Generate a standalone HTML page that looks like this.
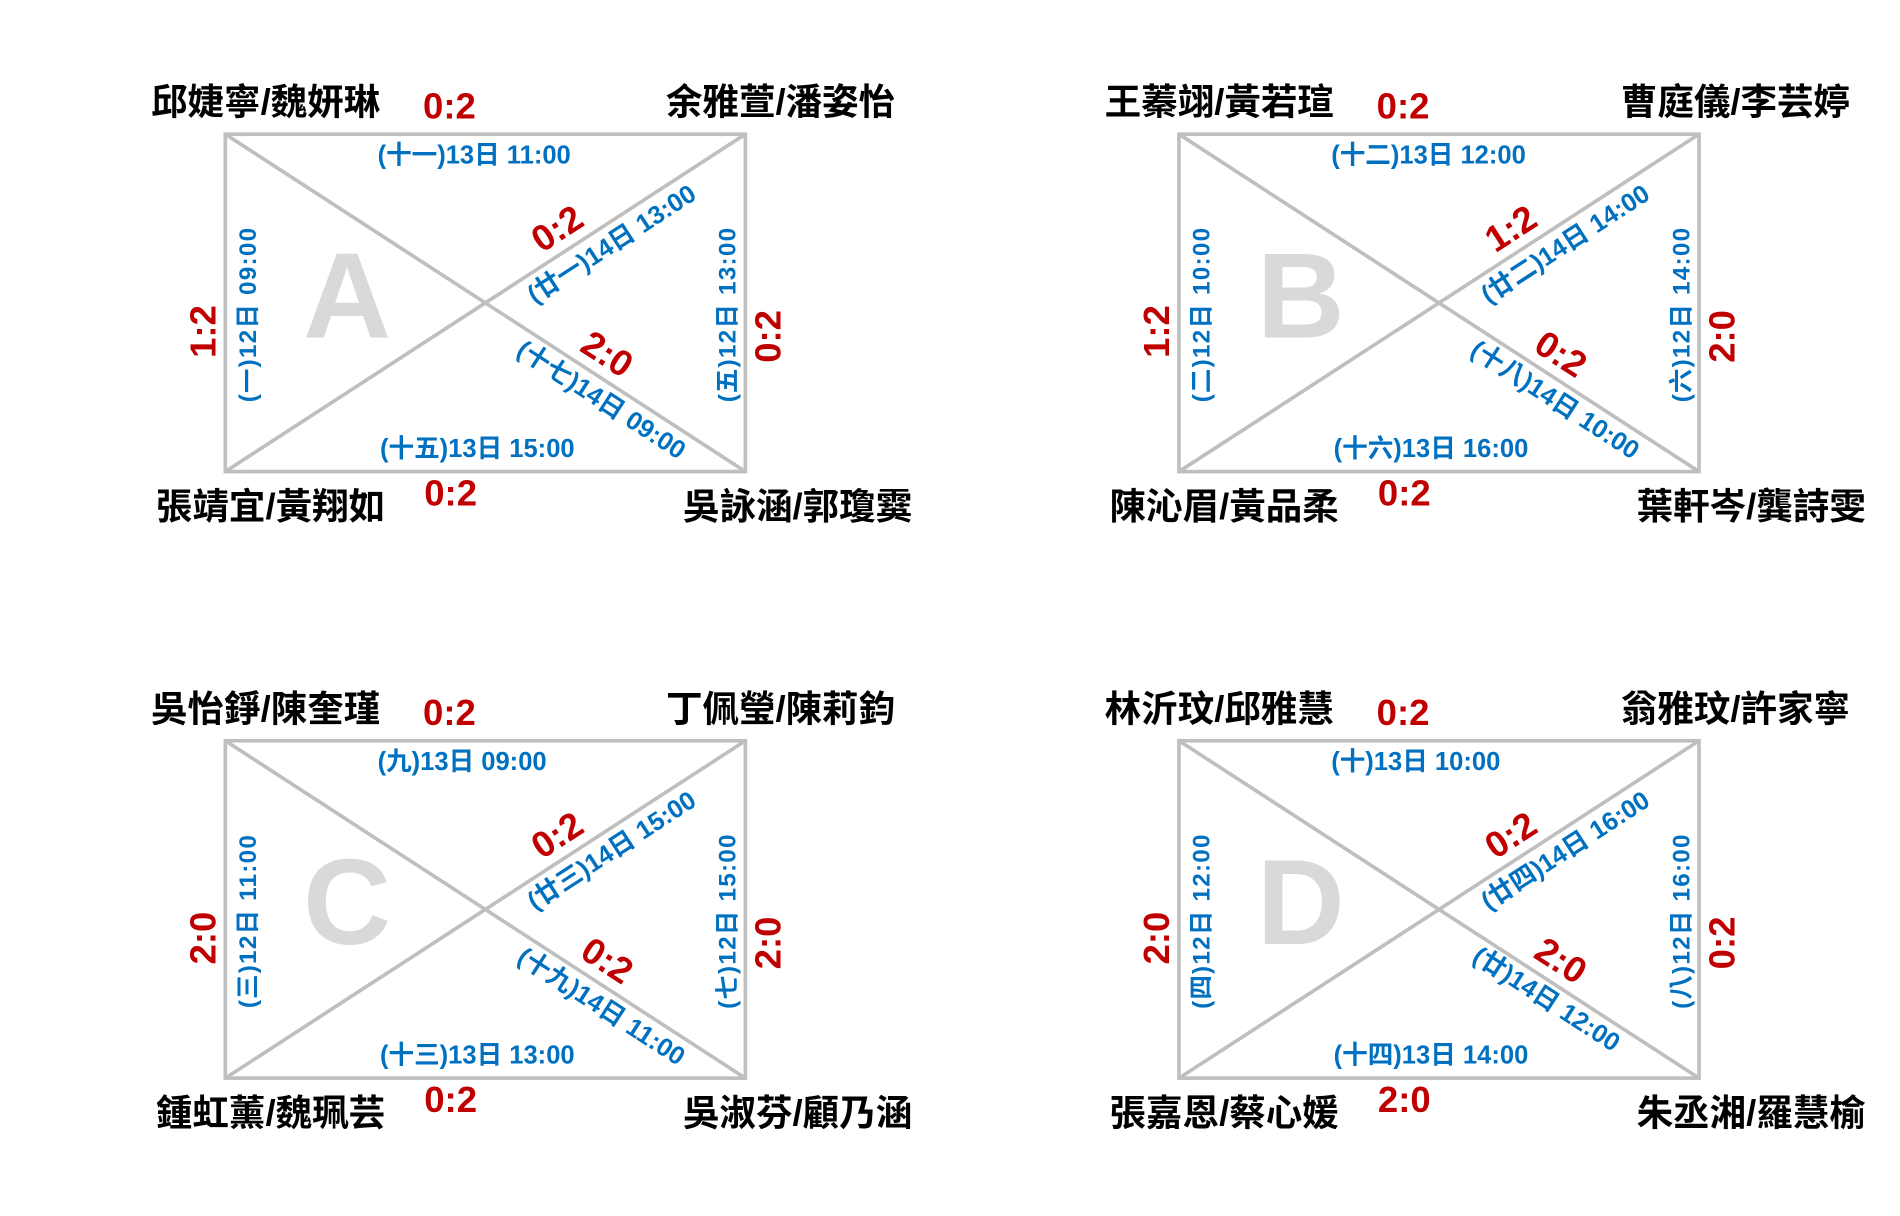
<!DOCTYPE html>
<html><head><meta charset="utf-8"><style>
html,body{margin:0;padding:0;background:#fff;}
svg{display:block}
text{font-family:"Liberation Sans","Noto Sans CJK TC",sans-serif;font-weight:bold}
.n{font-size:30px;fill:#000}
.s{font-size:30px;fill:#c00000}
.b{font-size:21px;fill:#0070c0}
.v{font-size:20px;fill:#0070c0;letter-spacing:1px}
.L{font-size:100px;fill:#d9d9d9}
</style></head><body>
<svg width="1900" height="1216" viewBox="0 0 1560 998" xmlns="http://www.w3.org/2000/svg">
<defs>
<g id="box">
<rect x="185" y="110" width="427" height="277" fill="none" stroke="#bfbfbf" stroke-width="3"/>
<line x1="185" y1="110" x2="612" y2="387" stroke="#bfbfbf" stroke-width="3"/>
<line x1="185" y1="387" x2="612" y2="110" stroke="#bfbfbf" stroke-width="3"/>
</g>
</defs>

<g>
<use href="#box"/>
<text class="L" x="285" y="277" text-anchor="middle">A</text>
<text class="n" x="124" y="94">邱婕寧/魏妍琳</text>
<text class="n" x="735" y="94" text-anchor="end">余雅萱/潘姿怡</text>
<text class="n" x="128" y="426">張靖宜/黃翔如</text>
<text class="n" x="749" y="426" text-anchor="end">吳詠涵/郭瓊霙</text>
<text class="s" x="369" y="97" text-anchor="middle">0:2</text>
<text class="s" x="370" y="415" text-anchor="middle">0:2</text>
<text class="b" x="310" y="134">(十一)13日 11:00</text>
<text class="b" x="312" y="375">(十五)13日 15:00</text>
<text class="v" transform="translate(210,258) rotate(-90)" text-anchor="middle">(一)12日 09:00</text>
<text class="s" transform="translate(177,272) rotate(-90)" text-anchor="middle">1:2</text>
<text class="v" transform="translate(604,258) rotate(-90)" text-anchor="middle">(五)12日 13:00</text>
<text class="s" transform="translate(641,276) rotate(-90)" text-anchor="middle">0:2</text>
<text class="b" transform="translate(506,206) rotate(-33)" text-anchor="middle">(廿一)14日 13:00</text>
<text class="s" transform="translate(463,196) rotate(-33)" text-anchor="middle">0:2</text>
<text class="b" transform="translate(490,334) rotate(33)" text-anchor="middle">(十七)14日 09:00</text>
<text class="s" transform="translate(493,299) rotate(33)" text-anchor="middle">2:0</text>
</g>

<g transform="translate(783,0)">
<use href="#box"/>
<text class="L" x="285" y="277" text-anchor="middle">B</text>
<text class="n" x="124" y="94">王蓁翊/黃若瑄</text>
<text class="n" x="736" y="94" text-anchor="end">曹庭儀/李芸婷</text>
<text class="n" x="128" y="426">陳沁眉/黃品柔</text>
<text class="n" x="749" y="426" text-anchor="end">葉軒岑/龔詩雯</text>
<text class="s" x="369" y="97" text-anchor="middle">0:2</text>
<text class="s" x="370" y="415" text-anchor="middle">0:2</text>
<text class="b" x="310" y="134">(十二)13日 12:00</text>
<text class="b" x="312" y="375">(十六)13日 16:00</text>
<text class="v" transform="translate(210,258) rotate(-90)" text-anchor="middle">(二)12日 10:00</text>
<text class="s" transform="translate(177,272) rotate(-90)" text-anchor="middle">1:2</text>
<text class="v" transform="translate(604,258) rotate(-90)" text-anchor="middle">(六)12日 14:00</text>
<text class="s" transform="translate(641,276) rotate(-90)" text-anchor="middle">2:0</text>
<text class="b" transform="translate(506,206) rotate(-33)" text-anchor="middle">(廿二)14日 14:00</text>
<text class="s" transform="translate(463,196) rotate(-33)" text-anchor="middle">1:2</text>
<text class="b" transform="translate(490,334) rotate(33)" text-anchor="middle">(十八)14日 10:00</text>
<text class="s" transform="translate(493,299) rotate(33)" text-anchor="middle">0:2</text>
</g>

<g transform="translate(0,498)">
<use href="#box"/>
<text class="L" x="285" y="277" text-anchor="middle">C</text>
<text class="n" x="124" y="94">吳怡錚/陳奎瑾</text>
<text class="n" x="735" y="94" text-anchor="end">丁佩瑩/陳莉鈞</text>
<text class="n" x="128" y="426">鍾虹薰/魏珮芸</text>
<text class="n" x="749" y="426" text-anchor="end">吳淑芬/顧乃涵</text>
<text class="s" x="369" y="97" text-anchor="middle">0:2</text>
<text class="s" x="370" y="415" text-anchor="middle">0:2</text>
<text class="b" x="310" y="134">(九)13日 09:00</text>
<text class="b" x="312" y="375">(十三)13日 13:00</text>
<text class="v" transform="translate(210,258) rotate(-90)" text-anchor="middle">(三)12日 11:00</text>
<text class="s" transform="translate(177,272) rotate(-90)" text-anchor="middle">2:0</text>
<text class="v" transform="translate(604,258) rotate(-90)" text-anchor="middle">(七)12日 15:00</text>
<text class="s" transform="translate(641,276) rotate(-90)" text-anchor="middle">2:0</text>
<text class="b" transform="translate(506,206) rotate(-33)" text-anchor="middle">(廿三)14日 15:00</text>
<text class="s" transform="translate(463,196) rotate(-33)" text-anchor="middle">0:2</text>
<text class="b" transform="translate(490,334) rotate(33)" text-anchor="middle">(十九)14日 11:00</text>
<text class="s" transform="translate(493,299) rotate(33)" text-anchor="middle">0:2</text>
</g>

<g transform="translate(783,498)">
<use href="#box"/>
<text class="L" x="285" y="277" text-anchor="middle">D</text>
<text class="n" x="124" y="94">林沂玟/邱雅慧</text>
<text class="n" x="736" y="94" text-anchor="end">翁雅玟/許家寧</text>
<text class="n" x="128" y="426">張嘉恩/蔡心媛</text>
<text class="n" x="749" y="426" text-anchor="end">朱丞湘/羅慧榆</text>
<text class="s" x="369" y="97" text-anchor="middle">0:2</text>
<text class="s" x="370" y="415" text-anchor="middle">2:0</text>
<text class="b" x="310" y="134">(十)13日 10:00</text>
<text class="b" x="312" y="375">(十四)13日 14:00</text>
<text class="v" transform="translate(210,258) rotate(-90)" text-anchor="middle">(四)12日 12:00</text>
<text class="s" transform="translate(177,272) rotate(-90)" text-anchor="middle">2:0</text>
<text class="v" transform="translate(604,258) rotate(-90)" text-anchor="middle">(八)12日 16:00</text>
<text class="s" transform="translate(641,276) rotate(-90)" text-anchor="middle">0:2</text>
<text class="b" transform="translate(506,206) rotate(-33)" text-anchor="middle">(廿四)14日 16:00</text>
<text class="s" transform="translate(463,196) rotate(-33)" text-anchor="middle">0:2</text>
<text class="b" transform="translate(483,328) rotate(33)" text-anchor="middle">(廿)14日 12:00</text>
<text class="s" transform="translate(493,299) rotate(33)" text-anchor="middle">2:0</text>
</g>
</svg>
</body></html>
